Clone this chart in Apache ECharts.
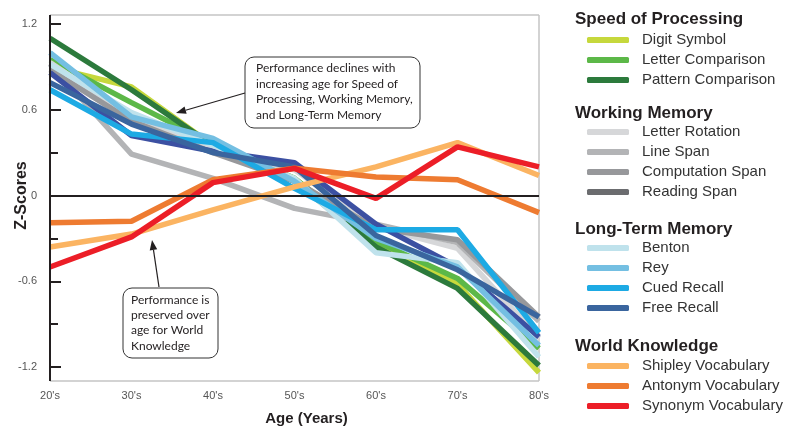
<!DOCTYPE html>
<html><head><meta charset="utf-8">
<script src="https://cdn.jsdelivr.net/npm/echarts@6/dist/echarts.min.js"></script>
<style>html,body{margin:0;padding:0;background:#fff}#c{width:800px;height:445px}</style>
</head><body><div id="c"></div>
<script>
// ---- data ----
const ages = ["20's", "30's", "40's", "50's", "60's", "70's", "80's"];
const yTickValues = [-1.2, -0.6, 0, 0.6, 1.2];

const digitSymbol       = [0.90, 0.76, 0.35, 0.12, -0.33, -0.62, -1.24];
const letterComparison  = [0.95, 0.65, 0.36, 0.12, -0.32, -0.58, -1.07];
const patternComparison = [1.10, 0.74, 0.35, 0.10, -0.36, -0.65, -1.19];

const letterRotation  = [0.93, 0.55, 0.32, 0.18, -0.22, -0.37, -1.00];
const lineSpan        = [0.92, 0.29, 0.12, -0.09, -0.20, -0.33, -0.88];
const computationSpan = [0.88, 0.52, 0.30, 0.10, -0.23, -0.31, -0.85];
const readingSpan     = [0.86, 0.42, 0.31, 0.23, -0.20, -0.50, -0.99];

const benton     = [0.92, 0.58, 0.35, 0.12, -0.40, -0.47, -1.13];
const rey        = [1.00, 0.55, 0.40, 0.10, -0.30, -0.50, -1.05];
const cuedRecall = [0.74, 0.43, 0.37, 0.05, -0.24, -0.24, -0.96];
const freeRecall = [0.79, 0.50, 0.30, 0.20, -0.28, -0.52, -0.85];

const shipleyVocabulary = [-0.36, -0.27, -0.10, 0.06, 0.20, 0.37, 0.14];
const antonymVocabulary = [-0.19, -0.18, 0.11, 0.19, 0.13, 0.11, -0.12];
const synonymVocabulary = [-0.50, -0.29, 0.09, 0.19, -0.02, 0.34, 0.20];

const groups = [
  { title: 'Speed of Processing', items: [
    ['Digit Symbol', digitSymbol], ['Letter Comparison', letterComparison], ['Pattern Comparison', patternComparison]] },
  { title: 'Working Memory', items: [
    ['Letter Rotation', letterRotation], ['Line Span', lineSpan], ['Computation Span', computationSpan], ['Reading Span', readingSpan]] },
  { title: 'Long-Term Memory', items: [
    ['Benton', benton], ['Rey', rey], ['Cued Recall', cuedRecall], ['Free Recall', freeRecall]] },
  { title: 'World Knowledge', items: [
    ['Shipley Vocabulary', shipleyVocabulary], ['Antonym Vocabulary', antonymVocabulary], ['Synonym Vocabulary', synonymVocabulary]] }
];

// ---- styles ----
const legendColor = {
  'Digit Symbol': '#c6d83c', 'Letter Comparison': '#5cb848', 'Pattern Comparison': '#2c7a3c',
  'Letter Rotation': '#d6d7d9', 'Line Span': '#b3b4b6', 'Computation Span': '#97989b', 'Reading Span': '#6b6c6f',
  'Benton': '#bfe2ec', 'Rey': '#74bfe2', 'Cued Recall': '#1daae4', 'Free Recall': '#3a659e',
  'Shipley Vocabulary': '#fbb462', 'Antonym Vocabulary': '#ee7b31', 'Synonym Vocabulary': '#ec1e27'
};
const lineColor = Object.assign({}, legendColor, { 'Reading Span': '#3c50a2' });

const G = { left: 50, right: 261, top: 24, bottom: 78 };
const W = 800, H = 445;
const frameTop = 15, frameBottom = 381;
const legendTops = [32.5, 124.5, 240.5, 358.5];
const headTops = [11, 105, 221, 338];

const chart = echarts.init(document.getElementById('c'), null, { renderer: 'canvas' });

const series = [];
groups.forEach(g => g.items.forEach(([name, data]) => {
  series.push({
    type: 'line', name, data, symbol: 'none', showSymbol: false, clip: false,
    itemStyle: { color: legendColor[name] },
    lineStyle: { width: 5.5, color: lineColor[name] },
    emphasis: { disabled: true }
  });
}));
series[0].markLine = {
  silent: true, symbol: 'none', label: { show: false },
  lineStyle: { color: '#231f20', width: 2, type: 'solid' },
  data: [{ yAxis: 0 }]
};

function arrow(x1, y1, x2, y2) {
  const a = Math.atan2(y2 - y1, x2 - x1), L = 10, w = 3.8;
  const bx = x2 - L * Math.cos(a), by = y2 - L * Math.sin(a);
  const px = -Math.sin(a) * w, py = Math.cos(a) * w;
  return [
    { type: 'line', z: 50, shape: { x1, y1, x2: bx, y2: by }, style: { stroke: '#231f20', lineWidth: 1.2 } },
    { type: 'polygon', z: 50, shape: { points: [[x2, y2], [bx + px, by + py], [bx - px, by - py]] }, style: { fill: '#231f20' } }
  ];
}
const annFont = { fontFamily: 'Lato', fontSize: 12, fill: '#231f20' };
function textLines(x, y0, lines, lh) {
  return lines.map((t, i) => ({ type: 'text', z: 51, x, y: y0 + i * lh, style: Object.assign({ text: t, verticalAlign: 'middle' }, annFont) }));
}

const px0 = G.left, px1 = W - G.right;
const graphic = [
  { type: 'line', z: 1, shape: { x1: px0, y1: frameTop, x2: px1, y2: frameTop }, style: { stroke: '#c4c4c4', lineWidth: 1.5 } },
  { type: 'line', z: 1, shape: { x1: px1, y1: frameTop, x2: px1, y2: frameBottom }, style: { stroke: '#c4c4c4', lineWidth: 1.5 } },
  { type: 'line', z: 1, shape: { x1: px0, y1: frameBottom, x2: px1, y2: frameBottom }, style: { stroke: '#c4c4c4', lineWidth: 1.5 } },
  { type: 'line', z: 5, shape: { x1: px0, y1: frameTop, x2: px0, y2: frameBottom }, style: { stroke: '#231f20', lineWidth: 2 } },
  { type: 'rect', z: 49, shape: { x: 245, y: 57, width: 175, height: 71, r: 9 }, style: { fill: '#fff', stroke: '#333', lineWidth: 1 } },
  ...textLines(256, 68, ['Performance declines with', 'increasing age for Speed of', 'Processing, Working Memory,', 'and Long-Term Memory'], 15.7),
  ...arrow(245, 93, 176, 113),
  { type: 'rect', z: 49, shape: { x: 123, y: 288, width: 95, height: 70, r: 9 }, style: { fill: '#fff', stroke: '#333', lineWidth: 1 } },
  ...textLines(131, 300, ['Performance is', 'preserved over', 'age for World', 'Knowledge'], 15.3),
  ...arrow(159, 287, 152, 240)
];

chart.setOption({
  animation: false,
  backgroundColor: '#fff',
  grid: { left: G.left, right: G.right, top: G.top, bottom: G.bottom, containLabel: false, outerBoundsMode: 'none' },
  title: groups.map((g, i) => ({
    text: g.title, left: 575, top: headTops[i], padding: 0,
    textStyle: { fontSize: 17, fontWeight: 'bold', color: '#231f20', fontFamily: 'Liberation Sans' }
  })),
  legend: groups.map((g, i) => ({
    data: g.items.map(it => it[0]), orient: 'vertical', left: 587, top: legendTops[i],
    itemWidth: 42, itemHeight: 6, icon: 'roundRect', itemGap: 5, padding: 0, selectedMode: false,
    textStyle: { fontSize: 15, lineHeight: 15, color: '#333', fontFamily: 'Liberation Sans', padding: [0, 0, 0, 8] }
  })),
  xAxis: {
    type: 'category', data: ages, boundaryGap: false,
    axisLine: { show: false }, axisTick: { show: false },
    axisLabel: { margin: 23, fontSize: 11, color: '#555', fontFamily: 'Liberation Sans' },
    name: 'Age (Years)', nameLocation: 'middle', nameGap: 44,
    nameTextStyle: { fontSize: 15, fontWeight: 'bold', color: '#231f20', fontFamily: 'Liberation Sans', padding: [0, 0, 0, 24] }
  },
  yAxis: {
    type: 'value', min: yTickValues[0], max: yTickValues[yTickValues.length - 1], interval: 0.6,
    axisLine: { show: false },
    axisTick: { show: true, inside: true, length: 11, lineStyle: { color: '#231f20', width: 2 } },
    minorTick: { show: true, splitNumber: 2, length: 8, lineStyle: { color: '#231f20', width: 2 } },
    splitLine: { show: false },
    axisLabel: { margin: 13, fontSize: 11, color: '#555', fontFamily: 'Liberation Sans',
      formatter: v => Math.abs(v) < 1e-9 ? '0' : v.toFixed(1) },
    name: 'Z-Scores', nameLocation: 'middle', nameGap: 20, nameMoveOverlap: false,
    nameTextStyle: { fontSize: 16, fontWeight: 'bold', color: '#231f20', fontFamily: 'Liberation Sans' }
  },
  graphic,
  series
});
</script></body></html>
